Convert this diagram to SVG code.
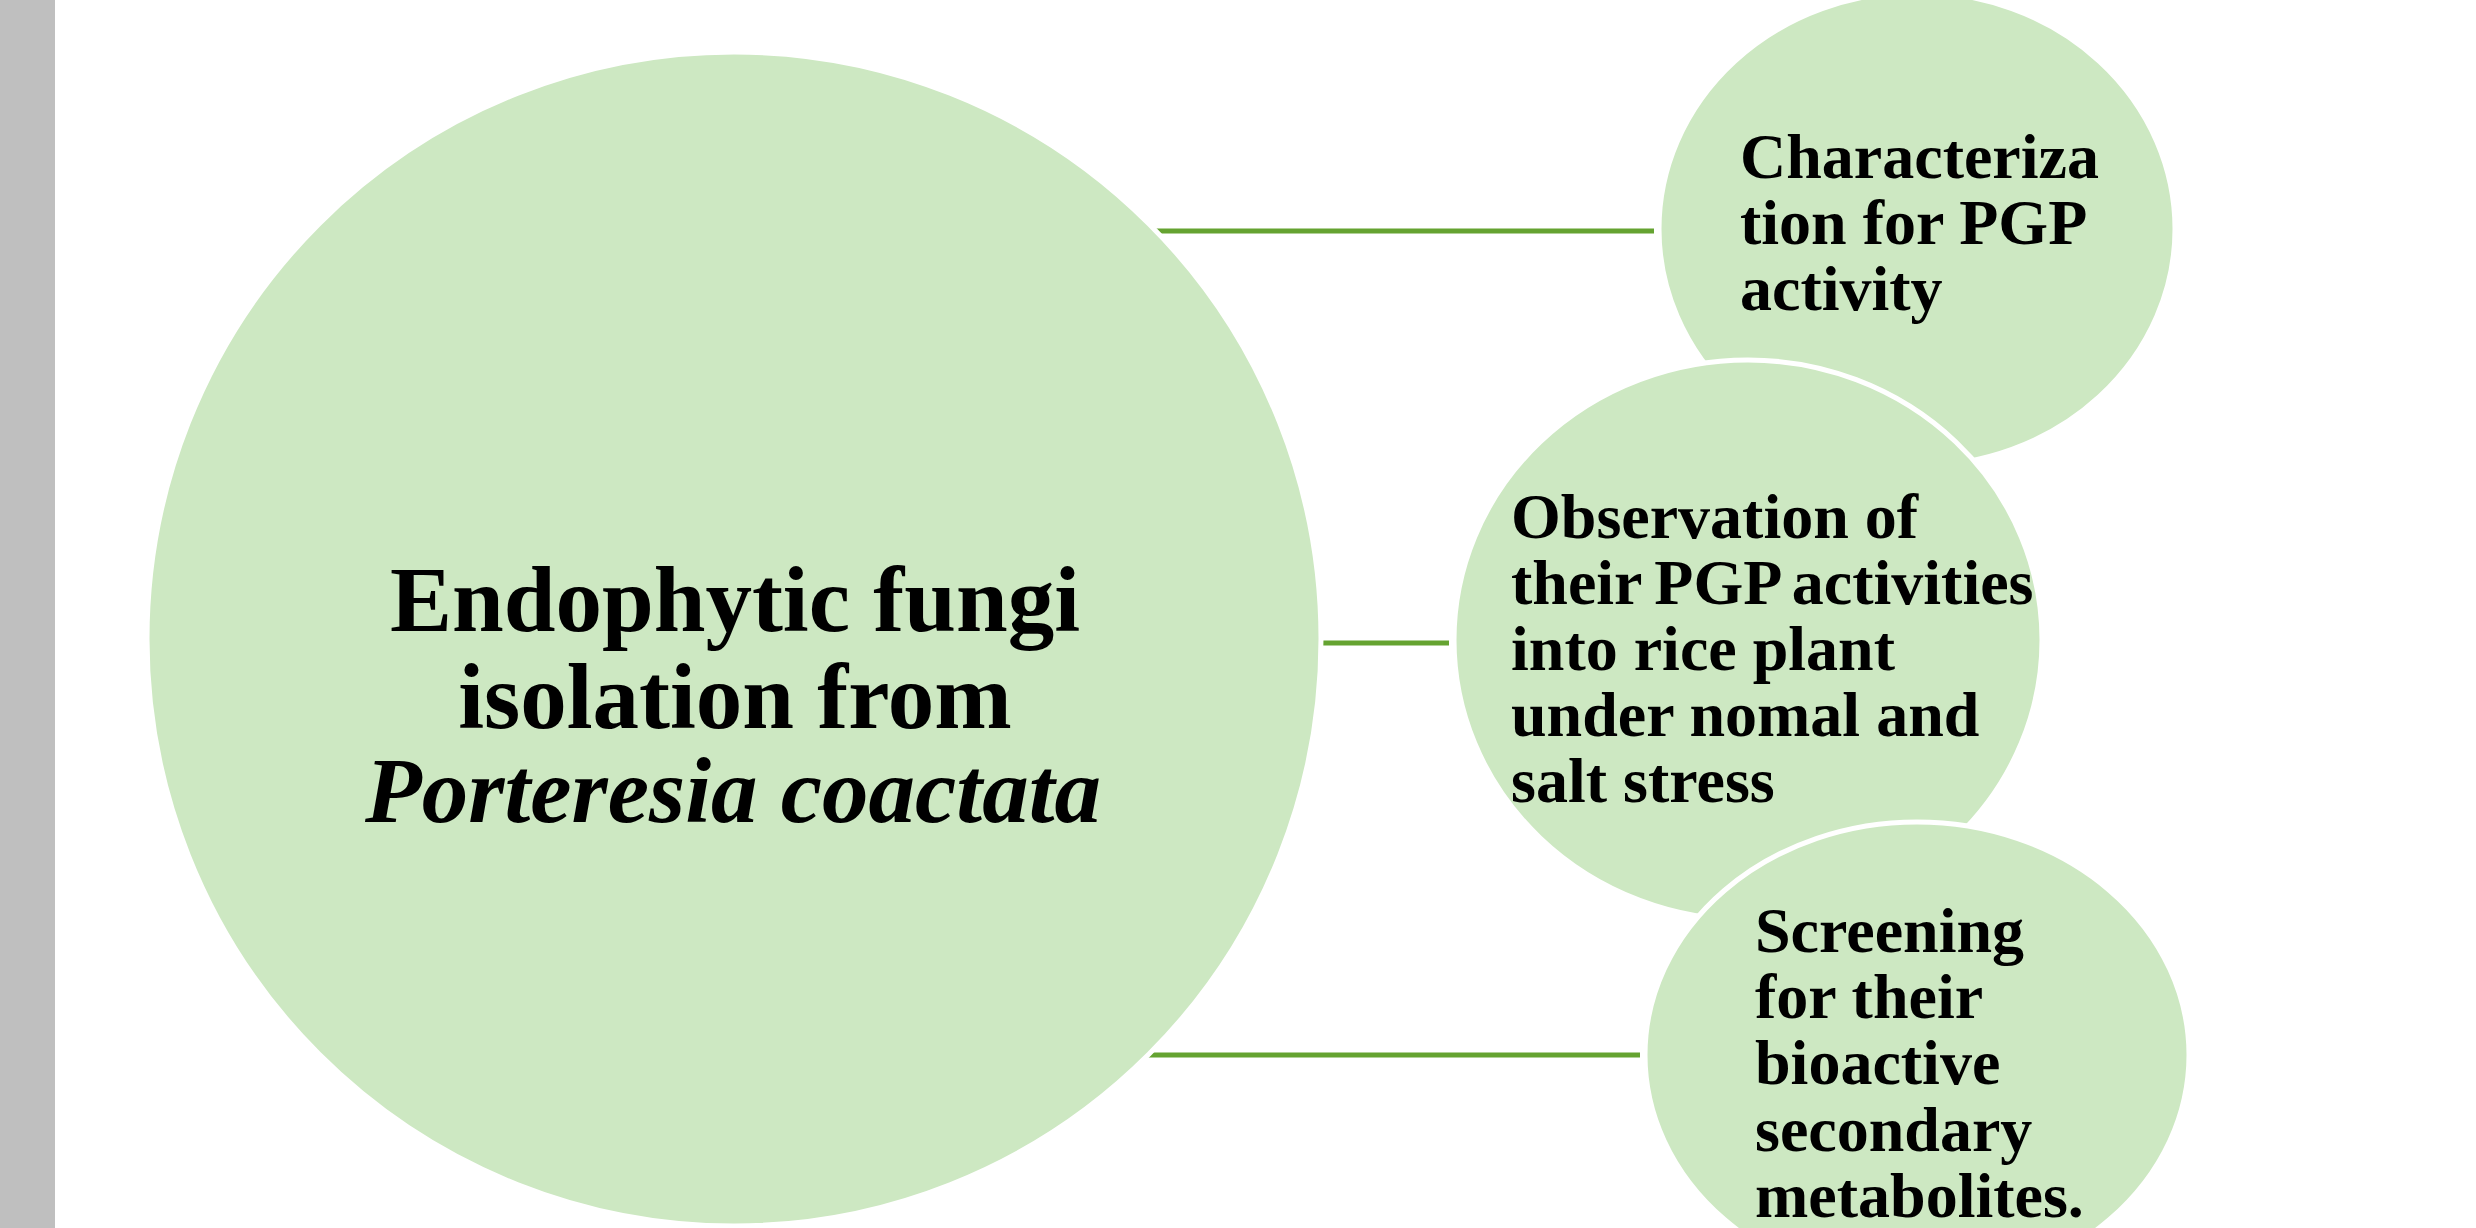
<svg xmlns="http://www.w3.org/2000/svg" width="2476" height="1228" viewBox="0 0 2476 1228">
<style>
.node{fill:#CDE8C2;stroke:#FFFFFF;stroke-width:5}
.conn{stroke:#65A331;stroke-width:5;fill:none}
.t{font-family:"Liberation Serif","Times New Roman",serif;font-weight:bold;fill:#000000}
.big{font-size:93px}
.small{font-size:64px}
</style>
<rect x="0" y="0" width="2476" height="1228" fill="#FFFFFF"/>
<rect x="0" y="0" width="55" height="1228" fill="#BFBFBF"/>
<g id="connectors">
<line class="conn" x1="1150" y1="231" x2="1654" y2="231"/>
<line class="conn" x1="1315" y1="643" x2="1449" y2="643"/>
<line class="conn" x1="1145" y1="1055" x2="1640" y2="1055"/>
</g>
<g id="node-main">
<circle class="node" cx="734" cy="639" r="587"/>
<text class="t big" text-anchor="middle" x="735" y="631">Endophytic fungi</text>
<text class="t big" text-anchor="middle" x="735" y="728">isolation from</text>
<text class="t big" text-anchor="middle" x="733" y="822" font-style="italic" font-size="94">Porteresia coactata</text>
</g>
<g id="node-characterization">
<ellipse class="node" cx="1917" cy="229" rx="258" ry="237"/>
<text class="t small" x="1740" y="178">Characteriza</text>
<text class="t small" x="1740" y="244">tion for PGP</text>
<text class="t small" x="1740" y="310">activity</text>
</g>
<g id="node-observation">
<ellipse class="node" cx="1748" cy="640" rx="294" ry="280"/>
<text class="t small" x="1511" y="538">Observation of</text>
<text class="t small" x="1511" y="604" word-spacing="-3">their PGP activities</text>
<text class="t small" x="1511" y="670">into rice plant</text>
<text class="t small" x="1511" y="736">under nomal and</text>
<text class="t small" x="1511" y="802">salt stress</text>
</g>
<g id="node-screening">
<ellipse class="node" cx="1917" cy="1055" rx="272" ry="233"/>
<text class="t small" x="1755" y="952">Screening</text>
<text class="t small" x="1755" y="1018">for their</text>
<text class="t small" x="1755" y="1084">bioactive</text>
<text class="t small" x="1755" y="1151">secondary</text>
<text class="t small" x="1755" y="1217">metabolites.</text>
</g>
</svg>
